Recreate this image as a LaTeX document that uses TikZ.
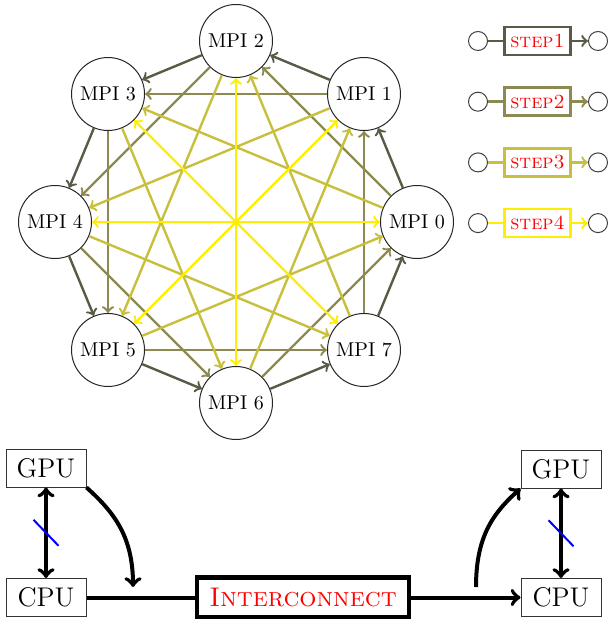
\documentclass[tikz,border=0pt]{standalone}
\definecolor{stepA}{RGB}{90,90,70}
\definecolor{stepB}{RGB}{140,138,80}
\definecolor{stepC}{RGB}{200,192,60}
\definecolor{stepD}{RGB}{255,238,0}
\begin{document}
\begin{tikzpicture}[x=0.5pt,y=-0.5pt,
  mpi/.style={circle,draw=black!85,line width=0.5pt,fill=white,minimum size=36.5pt,inner sep=0pt},
  edgeA/.style={stepA,line width=1.2pt,->},
  edgeB/.style={stepB,line width=1.2pt,->},
  edgeC/.style={stepC,line width=1.2pt,->},
  edgeD/.style={stepD,line width=1.2pt,<->},
  legcirc/.style={circle,draw=black!75,line width=0.5pt,minimum size=9.5pt,inner sep=0pt},
  legbox/.style={draw,line width=1.4pt,fill=white,inner sep=3pt,minimum height=14pt,minimum width=32pt,text=red},
  hwbox/.style={draw=black!80,line width=0.5pt,minimum width=40pt,minimum height=19pt,inner sep=3pt,font=\fontsize{13.5}{16}\selectfont},
  icbox/.style={draw,line width=2.2pt,minimum width=106pt,minimum height=20pt,inner sep=3pt,text=red,font=\fontsize{13.5}{16}\selectfont},
  big/.style={line width=2pt},
  slash/.style={blue,line width=1pt}]
\useasboundingbox (0,0) rectangle (608,619);
% ring of MPI processes
\foreach \i in {0,...,7}
  \node[mpi] (m\i) at ({236+181*cos(45*\i)},{222-181*sin(45*\i)}) {MPI \i};
% step 1: i -> i+1
\foreach \i in {0,...,7}{
  \pgfmathtruncatemacro\j{mod(\i+1,8)}
  \draw[edgeA] (m\i) -- (m\j);
}
% step 2: i -> i+2
\foreach \i in {0,...,7}{
  \pgfmathtruncatemacro\j{mod(\i+2,8)}
  \draw[edgeB] (m\i) -- (m\j);
}
% step 3: i -> i+3
\foreach \i in {0,...,7}{
  \pgfmathtruncatemacro\j{mod(\i+3,8)}
  \draw[edgeC] (m\i) -- (m\j);
}
% step 4: i <-> i+4
\foreach \i in {0,...,3}{
  \pgfmathtruncatemacro\j{\i+4}
  \draw[edgeD] (m\i) -- (m\j);
}
% legend
\foreach \k/\c in {1/stepA,2/stepB,3/stepC,4/stepD}{
  \pgfmathsetmacro\yy{41+60.7*(\k-1)}
  \node[legcirc] (la\k) at (478,\yy) {};
  \node[legbox,draw=\c] (lb\k) at (537.5,\yy) {\textsc{step\k}};
  \node[legcirc] (lr\k) at (598,\yy) {};
  \draw[\c,line width=1.2pt] (la\k) -- (lb\k);
  \draw[\c,line width=1.2pt,->] (lb\k) -- (lr\k);
}
% bottom: GPU / CPU / interconnect
\node[hwbox] (g1) at (46,468) {GPU};
\node[hwbox] (c1) at (46,597.5) {CPU};
\node[hwbox] (g2) at (561,469) {GPU};
\node[hwbox] (c2) at (561,597.5) {CPU};
\node[icbox] (ic) at (303,597.5) {\textsc{Interconnect}};
\draw[big,<->] (g1) -- (c1);
\draw[big,<->] (g2) -- (c2);
\path (g1.south) -- (c1.north) coordinate[pos=0.5] (s1);
\path (g2.south) -- (c2.north) coordinate[pos=0.5] (s2);
\draw[slash] ([shift={(-12.5,-13)}]s1) -- ([shift={(12.5,13)}]s1);
\draw[slash] ([shift={(-12.5,-13)}]s2) -- ([shift={(12.5,13)}]s2);
\draw[big] (c1) -- (ic);
\draw[big,->] (ic) -- (c2);
\coordinate (d1) at (133,587);
\coordinate (d2) at (476,587);
\draw[big,->] (g1.south east) .. controls +(28,25) and +(0,-50) .. (d1);
\draw[big,->] (d2) .. controls +(0,-50) and +(-28,25) .. (g2.south west);
\end{tikzpicture}
\end{document}
